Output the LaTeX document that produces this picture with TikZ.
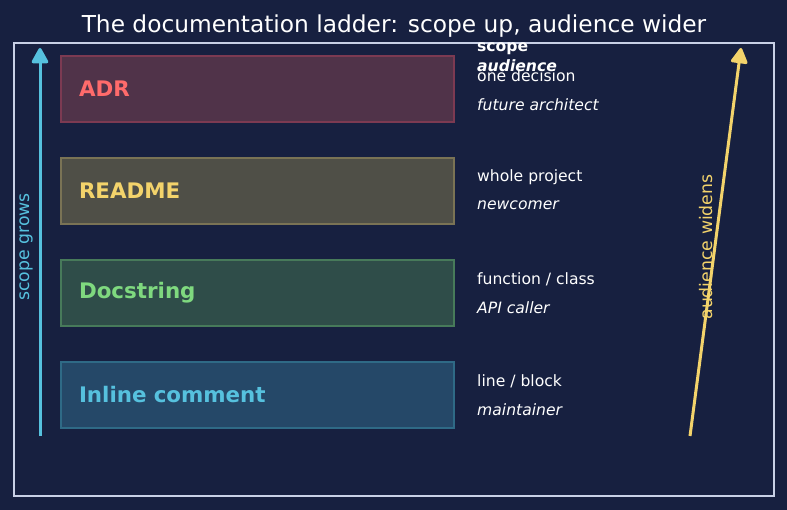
\documentclass[tikz,border=0pt]{standalone}
\usepackage{fontspec}
\setmainfont{DejaVu Sans}
\usepackage{tikz}
\usetikzlibrary{arrows.meta}
\definecolor{bg}{HTML}{172040}
\definecolor{frame}{HTML}{C8D0E6}
\definecolor{cyanA}{HTML}{56C1DE}
\definecolor{yellowA}{HTML}{F3D36B}
\definecolor{redA}{HTML}{FF6B6B}
\definecolor{greenA}{HTML}{7FD97F}
\definecolor{adrfill}{HTML}{503349}
\definecolor{adrline}{HTML}{7C3A52}
\definecolor{rmfill}{HTML}{4F4F47}
\definecolor{rmline}{HTML}{7A7355}
\definecolor{dsfill}{HTML}{2F4D49}
\definecolor{dsline}{HTML}{477A5A}
\definecolor{icfill}{HTML}{254868}
\definecolor{icline}{HTML}{2F6A86}
\tikzset{rung/.style={draw, line width=2pt, minimum width=393pt, minimum height=66pt,
  text width=357pt, inner xsep=18pt, align=left, font=\fontsize{21.4}{24}\selectfont\bfseries}}
\tikzset{t/.style={anchor=west, inner sep=0pt, text=white, font=\fontsize{15.6}{17}\selectfont}}
\tikzset{ti/.style={t, font=\fontsize{15.6}{17}\selectfont\itshape}}
\tikzset{up/.style={line width=3pt, -{Triangle[length=17pt,width=18pt,round]}}}

\begin{document}
\begin{tikzpicture}[x=1pt, y=-1pt]
      \useasboundingbox[fill=bg] (0,0) rectangle (787,510);
      \draw[frame, line width=1.5pt] (14,43) rectangle (774,496);
      \node (title) at (394,26) [text=white, font=\fontsize{23.3}{26}\selectfont] {The documentation ladder: scope up, audience wider};
      % rungs
      \node (adr) at (257.5,89) [rung, fill=adrfill, draw=adrline, text=redA] {ADR};
      \node (readme) at (257.5,191) [rung, fill=rmfill, draw=rmline, text=yellowA] {README};
      \node (doc) at (257.5,293) [rung, fill=dsfill, draw=dsline, text=greenA] {Docstring};
      \node (inline) at (257.5,395) [rung, fill=icfill, draw=icline, text=cyanA] {Inline comment};
      % scope / audience
      \node (hs) at (477,49) [t, font=\fontsize{15.6}{17}\selectfont\bfseries] {scope};
      \node (ha) at (477,66) [t, font=\fontsize{15.6}{17}\selectfont\bfseries\itshape] {audience};
      \node (adrs) at (477,75.5) [t] {one decision};
      \node (adra) at (477,104.5) [ti] {future architect};
      \node (rms) at (477,177.5) [t] {whole project};
      \node (rma) at (477,205.5) [ti] {newcomer};
      \node (dss) at (477,279.5) [t] {function / class};
      \node (dsa) at (477,307.5) [ti] {API caller};
      \node (ics) at (477,381.5) [t] {line / block};
      \node (ica) at (477,409.5) [ti] {maintainer};
      % arrows
      \coordinate (s0) at (40,436);
      \coordinate (s1) at (40,48);
      \draw[up, cyanA] (s0) -- (s1);
      \node (sg) at (26,247) [rotate=90, text=cyanA, font=\fontsize{17.3}{19}\selectfont] {scope grows};
      \coordinate (a0) at (690,436);
      \coordinate (a1) at (741,48);
      \draw[up, yellowA] (a0) -- (a1);
      \node (aw) at (706,247) [rotate=90, text=yellowA, font=\fontsize{17.3}{19}\selectfont] {audience widens};
    \end{tikzpicture}
\end{document}
